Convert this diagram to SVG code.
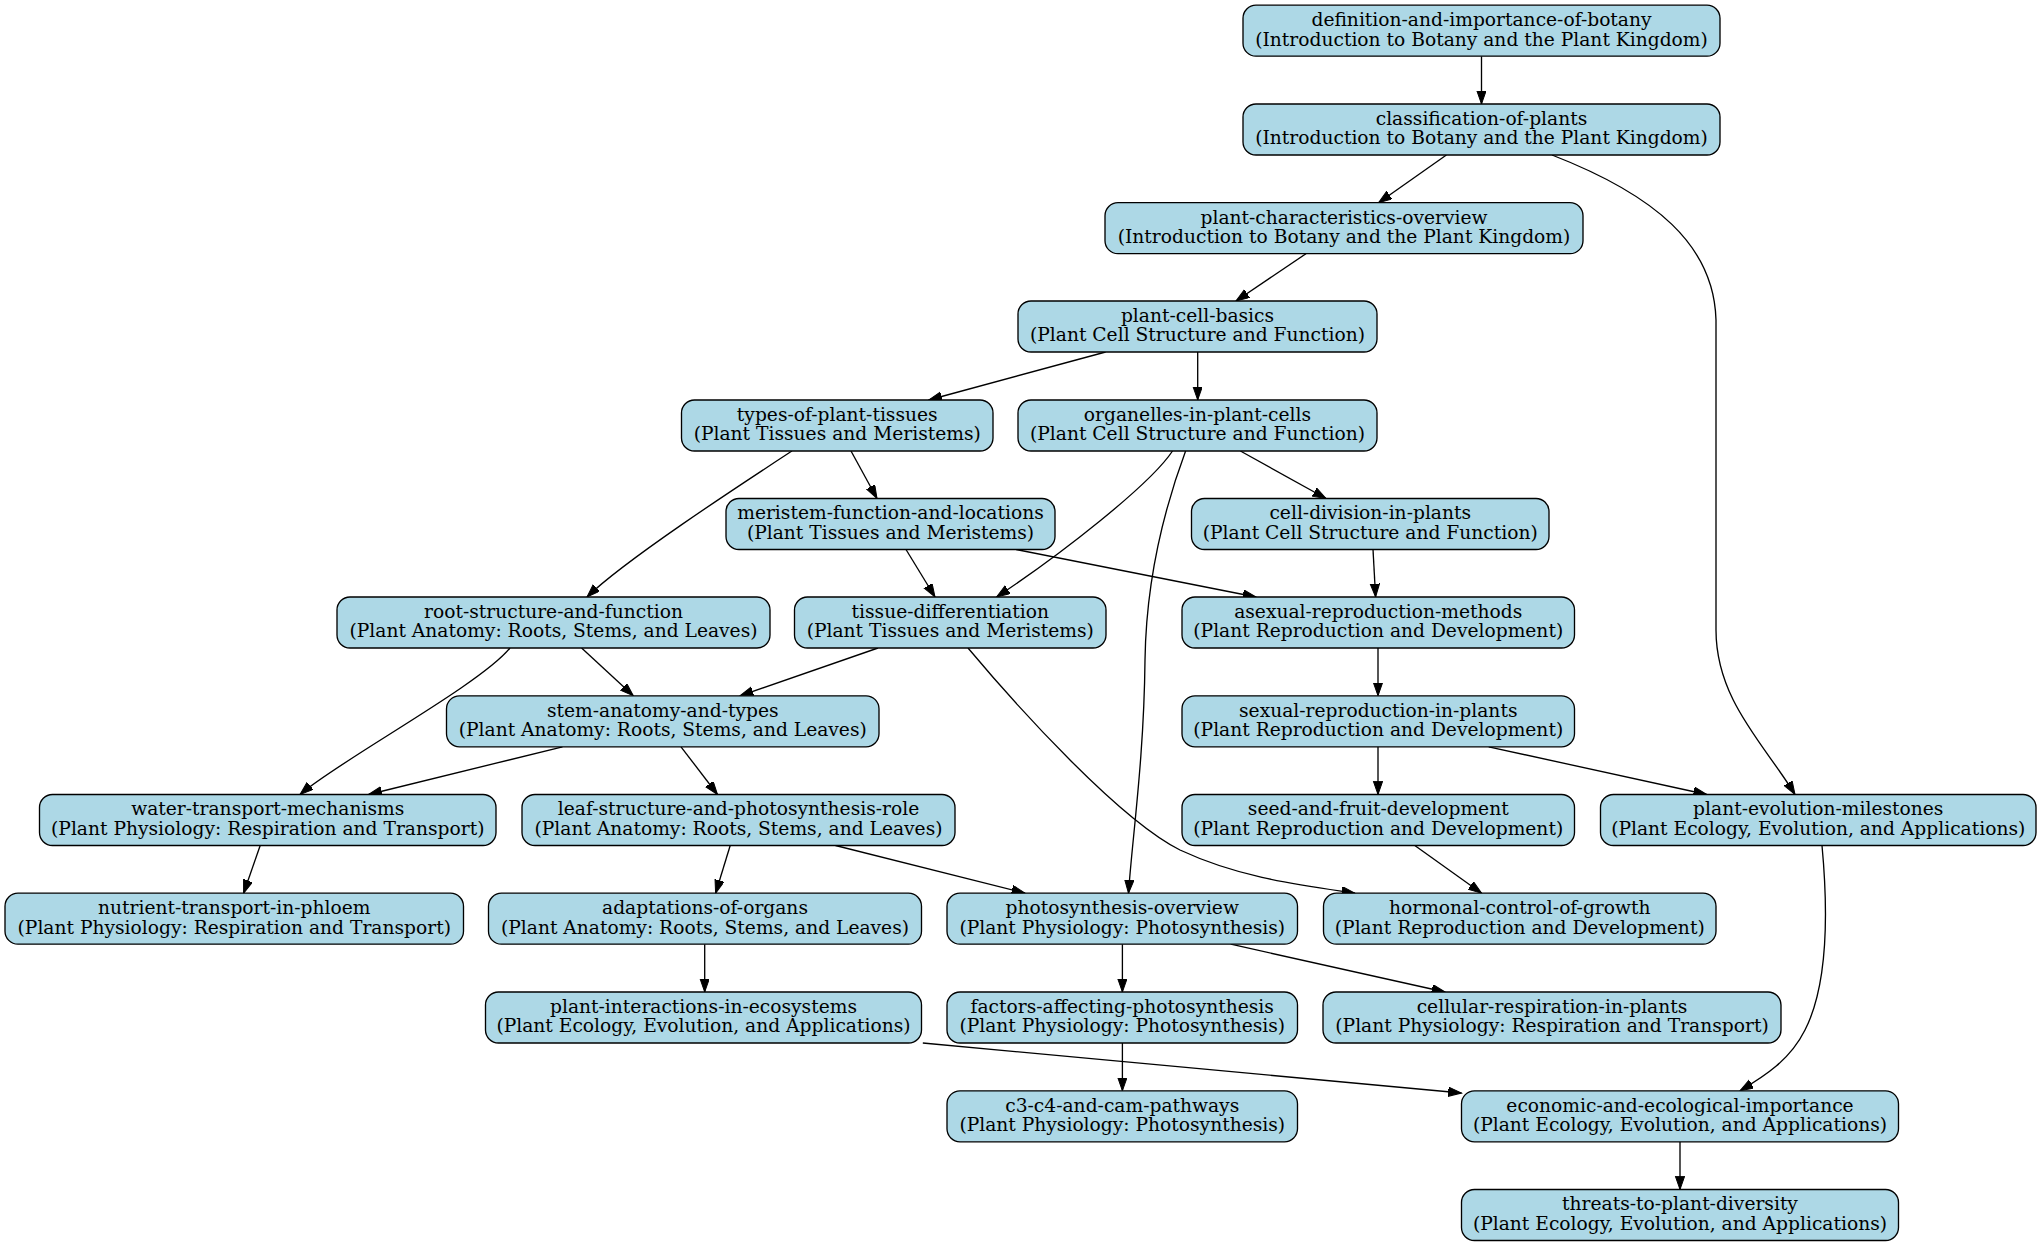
<svg xmlns="http://www.w3.org/2000/svg" width="2043" height="1245" viewBox="0 0 2043 1245">
<style>
.n rect{fill:#add8e6;stroke:#000;stroke-width:1.33}
.n text{font-family:"DejaVu Serif",serif;font-size:18.67px;text-anchor:middle;fill:#000}
#edges path{fill:none;stroke:#000;stroke-width:1.33}
</style>
<defs>
<marker id="ah" markerUnits="userSpaceOnUse" markerWidth="15" markerHeight="11" refX="13.3" refY="4.67" orient="auto">
<path d="M0,0 L13.3,4.67 L0,9.33 Z" fill="#000" stroke="#000" stroke-width="1"/>
</marker>
</defs>
<rect width="2043" height="1245" fill="#fff"/>
<g id="edges" marker-end="url(#ah)">
<path d="M1481.5,56.2 L1481.5,104"/>
<path d="M1446.4,155 L1378.6,202.7"/>
<path d="M1552,155 C1655,195 1714,245 1716,320 L1716,630 C1716,700 1765,745 1795,794.5"/>
<path d="M1306,253.7 L1236,301"/>
<path d="M1105.6,352 L928.7,400"/>
<path d="M1197.7,352 L1197.7,400"/>
<path d="M851,451 L877,498.5"/>
<path d="M792,451 C740,485 625,560 587,597"/>
<path d="M1240.4,451 L1326,498.5"/>
<path d="M1172.5,451 C1150,485 1060,555 996.6,597"/>
<path d="M1185.6,451 C1160,520 1146,590 1145,660 C1144,760 1132,840 1128.5,893.2"/>
<path d="M906,549.5 L935,597"/>
<path d="M1016,549.5 L1256,597"/>
<path d="M1373,549.5 L1375.6,597"/>
<path d="M581.6,648 L633.3,695.8"/>
<path d="M510,648 C480,685 340,760 300,794.5"/>
<path d="M878,648 L740,695.8"/>
<path d="M968,648 C1020,710 1120,820 1180,850 C1240,878 1300,885 1355,893.2"/>
<path d="M1378,648 L1378,695.8"/>
<path d="M1378,746.8 L1378,794.5"/>
<path d="M1488.7,746.8 L1706.7,794.5"/>
<path d="M562.5,746.8 L368.6,794.5"/>
<path d="M681,746.8 L717.5,794.5"/>
<path d="M260.2,845.5 L243.6,893.2"/>
<path d="M730.2,845.5 L715.6,893.2"/>
<path d="M835.5,845.5 L1025,893.2"/>
<path d="M1414.8,845.5 L1481.6,893.2"/>
<path d="M1822,845.5 C1828,910 1828,985 1805,1030 C1790,1060 1765,1076 1740,1090.8"/>
<path d="M704.7,944.2 L704.7,992"/>
<path d="M1122.4,944.2 L1122.4,992"/>
<path d="M1230.8,944.2 L1445,992"/>
<path d="M922.8,1043 L1461.5,1093"/>
<path d="M1122.4,1043 L1122.4,1090.8"/>
<path d="M1680,1141.8 L1680,1189.5"/>
</g>
<g id="definition-and-importance-of-botany" class="n"><rect x="1243" y="5.2" width="477" height="51" rx="13"/><text x="1481.5" y="26"><tspan x="1481.5">definition-and-importance-of-botany</tspan><tspan x="1481.5" dy="19.5">(Introduction to Botany and the Plant Kingdom)</tspan></text></g>
<g id="classification-of-plants" class="n"><rect x="1243" y="104" width="477" height="51" rx="13"/><text x="1481.5" y="124.8"><tspan x="1481.5">classification-of-plants</tspan><tspan x="1481.5" dy="19.5">(Introduction to Botany and the Plant Kingdom)</tspan></text></g>
<g id="plant-characteristics-overview" class="n"><rect x="1105" y="202.7" width="478" height="51" rx="13"/><text x="1344" y="223.5"><tspan x="1344">plant-characteristics-overview</tspan><tspan x="1344" dy="19.5">(Introduction to Botany and the Plant Kingdom)</tspan></text></g>
<g id="plant-cell-basics" class="n"><rect x="1018" y="301" width="359" height="51" rx="13"/><text x="1197.5" y="321.8"><tspan x="1197.5">plant-cell-basics</tspan><tspan x="1197.5" dy="19.5">(Plant Cell Structure and Function)</tspan></text></g>
<g id="types-of-plant-tissues" class="n"><rect x="681.5" y="400" width="311.5" height="51" rx="13"/><text x="837.25" y="420.8"><tspan x="837.25">types-of-plant-tissues</tspan><tspan x="837.25" dy="19.5">(Plant Tissues and Meristems)</tspan></text></g>
<g id="organelles-in-plant-cells" class="n"><rect x="1018" y="400" width="359" height="51" rx="13"/><text x="1197.5" y="420.8"><tspan x="1197.5">organelles-in-plant-cells</tspan><tspan x="1197.5" dy="19.5">(Plant Cell Structure and Function)</tspan></text></g>
<g id="meristem-function-and-locations" class="n"><rect x="726" y="498.5" width="329" height="51" rx="13"/><text x="890.5" y="519.3"><tspan x="890.5">meristem-function-and-locations</tspan><tspan x="890.5" dy="19.5">(Plant Tissues and Meristems)</tspan></text></g>
<g id="cell-division-in-plants" class="n"><rect x="1191.5" y="498.5" width="357.5" height="51" rx="13"/><text x="1370.25" y="519.3"><tspan x="1370.25">cell-division-in-plants</tspan><tspan x="1370.25" dy="19.5">(Plant Cell Structure and Function)</tspan></text></g>
<g id="root-structure-and-function" class="n"><rect x="337" y="597" width="433" height="51" rx="13"/><text x="553.5" y="617.8"><tspan x="553.5">root-structure-and-function</tspan><tspan x="553.5" dy="19.5">(Plant Anatomy: Roots, Stems, and Leaves)</tspan></text></g>
<g id="tissue-differentiation" class="n"><rect x="794.5" y="597" width="311.5" height="51" rx="13"/><text x="950.25" y="617.8"><tspan x="950.25">tissue-differentiation</tspan><tspan x="950.25" dy="19.5">(Plant Tissues and Meristems)</tspan></text></g>
<g id="asexual-reproduction-methods" class="n"><rect x="1182" y="597" width="392.5" height="51" rx="13"/><text x="1378.25" y="617.8"><tspan x="1378.25">asexual-reproduction-methods</tspan><tspan x="1378.25" dy="19.5">(Plant Reproduction and Development)</tspan></text></g>
<g id="stem-anatomy-and-types" class="n"><rect x="446.5" y="695.8" width="432.5" height="51" rx="13"/><text x="662.75" y="716.6"><tspan x="662.75">stem-anatomy-and-types</tspan><tspan x="662.75" dy="19.5">(Plant Anatomy: Roots, Stems, and Leaves)</tspan></text></g>
<g id="sexual-reproduction-in-plants" class="n"><rect x="1182" y="695.8" width="392.5" height="51" rx="13"/><text x="1378.25" y="716.6"><tspan x="1378.25">sexual-reproduction-in-plants</tspan><tspan x="1378.25" dy="19.5">(Plant Reproduction and Development)</tspan></text></g>
<g id="water-transport-mechanisms" class="n"><rect x="39.5" y="794.5" width="456.5" height="51" rx="13"/><text x="267.75" y="815.3"><tspan x="267.75">water-transport-mechanisms</tspan><tspan x="267.75" dy="19.5">(Plant Physiology: Respiration and Transport)</tspan></text></g>
<g id="leaf-structure-and-photosynthesis-role" class="n"><rect x="522" y="794.5" width="433" height="51" rx="13"/><text x="738.5" y="815.3"><tspan x="738.5">leaf-structure-and-photosynthesis-role</tspan><tspan x="738.5" dy="19.5">(Plant Anatomy: Roots, Stems, and Leaves)</tspan></text></g>
<g id="seed-and-fruit-development" class="n"><rect x="1182" y="794.5" width="392.5" height="51" rx="13"/><text x="1378.25" y="815.3"><tspan x="1378.25">seed-and-fruit-development</tspan><tspan x="1378.25" dy="19.5">(Plant Reproduction and Development)</tspan></text></g>
<g id="plant-evolution-milestones" class="n"><rect x="1600.5" y="794.5" width="435.5" height="51" rx="13"/><text x="1818.25" y="815.3"><tspan x="1818.25">plant-evolution-milestones</tspan><tspan x="1818.25" dy="19.5">(Plant Ecology, Evolution, and Applications)</tspan></text></g>
<g id="nutrient-transport-in-phloem" class="n"><rect x="5" y="893.2" width="458.5" height="51" rx="13"/><text x="234.25" y="914"><tspan x="234.25">nutrient-transport-in-phloem</tspan><tspan x="234.25" dy="19.5">(Plant Physiology: Respiration and Transport)</tspan></text></g>
<g id="adaptations-of-organs" class="n"><rect x="488.5" y="893.2" width="433" height="51" rx="13"/><text x="705" y="914"><tspan x="705">adaptations-of-organs</tspan><tspan x="705" dy="19.5">(Plant Anatomy: Roots, Stems, and Leaves)</tspan></text></g>
<g id="photosynthesis-overview" class="n"><rect x="947" y="893.2" width="350.5" height="51" rx="13"/><text x="1122.25" y="914"><tspan x="1122.25">photosynthesis-overview</tspan><tspan x="1122.25" dy="19.5">(Plant Physiology: Photosynthesis)</tspan></text></g>
<g id="hormonal-control-of-growth" class="n"><rect x="1323.5" y="893.2" width="392.5" height="51" rx="13"/><text x="1519.75" y="914"><tspan x="1519.75">hormonal-control-of-growth</tspan><tspan x="1519.75" dy="19.5">(Plant Reproduction and Development)</tspan></text></g>
<g id="plant-interactions-in-ecosystems" class="n"><rect x="485.5" y="992" width="436" height="51" rx="13"/><text x="703.5" y="1012.8"><tspan x="703.5">plant-interactions-in-ecosystems</tspan><tspan x="703.5" dy="19.5">(Plant Ecology, Evolution, and Applications)</tspan></text></g>
<g id="factors-affecting-photosynthesis" class="n"><rect x="947" y="992" width="350.5" height="51" rx="13"/><text x="1122.25" y="1012.8"><tspan x="1122.25">factors-affecting-photosynthesis</tspan><tspan x="1122.25" dy="19.5">(Plant Physiology: Photosynthesis)</tspan></text></g>
<g id="cellular-respiration-in-plants" class="n"><rect x="1323" y="992" width="458" height="51" rx="13"/><text x="1552" y="1012.8"><tspan x="1552">cellular-respiration-in-plants</tspan><tspan x="1552" dy="19.5">(Plant Physiology: Respiration and Transport)</tspan></text></g>
<g id="c3-c4-and-cam-pathways" class="n"><rect x="947" y="1090.8" width="350.5" height="51" rx="13"/><text x="1122.25" y="1111.6"><tspan x="1122.25">c3-c4-and-cam-pathways</tspan><tspan x="1122.25" dy="19.5">(Plant Physiology: Photosynthesis)</tspan></text></g>
<g id="economic-and-ecological-importance" class="n"><rect x="1461.5" y="1090.8" width="437" height="51" rx="13"/><text x="1680" y="1111.6"><tspan x="1680">economic-and-ecological-importance</tspan><tspan x="1680" dy="19.5">(Plant Ecology, Evolution, and Applications)</tspan></text></g>
<g id="threats-to-plant-diversity" class="n"><rect x="1461.5" y="1189.5" width="437" height="51" rx="13"/><text x="1680" y="1210.3"><tspan x="1680">threats-to-plant-diversity</tspan><tspan x="1680" dy="19.5">(Plant Ecology, Evolution, and Applications)</tspan></text></g>
</svg>
